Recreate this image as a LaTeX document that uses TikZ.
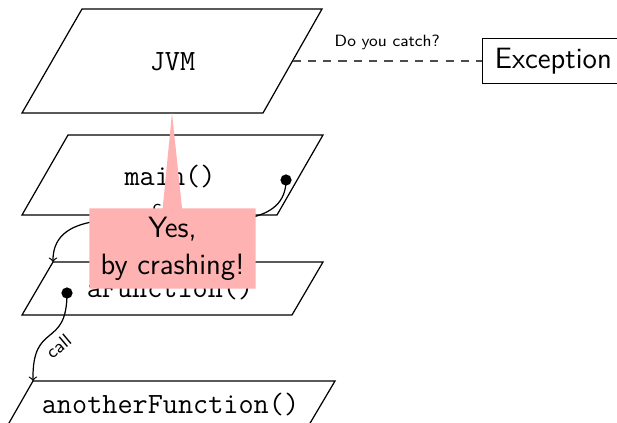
\documentclass[tikz,border=0pt]{standalone}
\usepackage{fontspec}
\usetikzlibrary{shapes.callouts}
\begin{document}
\begin{tikzpicture}[x=0.49pt,y=-0.49pt,
  plane/.style={draw, line width=0.6pt, fill=white},
  lbl/.style={font=\ttfamily\Large, inner sep=0pt},
  dotnode/.style={circle, fill=black, inner sep=0pt, minimum size=5.5pt},
  callarrow/.style={->, line width=0.6pt},
  smalltext/.style={font=\sffamily\footnotesize},
  calltext/.style={font=\sffamily\small},
  dashline/.style={line width=0.6pt, dash pattern=on 4pt off 3.5pt, draw=black!70}]
\clip (0,0) rectangle (617,422);
% planes
\draw[plane] (82,9) -- (322,9) -- (263,113) -- (22,113) -- cycle;
\draw[plane] (68,135) -- (323,135) -- (277,215) -- (22,215) -- cycle;
\draw[plane] (53,262) -- (323,262) -- (292,315) -- (22,315) -- cycle;
\draw[plane] (33,381) -- (335,381) -- (306,430) -- (5,430) -- cycle;
\node[lbl] (jvm) at (172.5,62) {JVM};
\node[lbl] (main) at (170,177) {main()};
\node[lbl] (afun) at (170,289) {aFunction()};
\node[lbl] (another) at (170.5,405) {anotherFunction()};
\coordinate (jvmE) at (292.5,61);
\coordinate (jvmS) at (172,113);
\coordinate (afunNW) at (53,262);
\coordinate (anotherNW) at (33,381);
% calls
\node[dotnode] (d1) at (286,180) {};
\node[dotnode] (d2) at (67,293) {};
\draw[callarrow] (d1.center) .. controls (286,270) and (52,170) .. (afunNW)
  node[pos=0.51, sloped, above, calltext] {call};
\draw[callarrow] (d2.center) .. controls (67,350) and (32,320) .. (anotherNW)
  node[pos=0.5, sloped, below, calltext] {call};
% exception
\node[draw, line width=0.6pt, anchor=west, font=\sffamily\Large, inner xsep=6pt, inner ysep=4.6pt] (exc) at (482,61) {Exception};
\draw[dashline] (jvmE) -- node[midway, above=2pt, smalltext] {Do you catch?} (exc.west);
% callout
\node[rectangle callout, fill=red!30, callout absolute pointer={(jvmS)},
  callout pointer width=9.5pt, align=center, font=\sffamily\Large, inner xsep=5.5pt, inner ysep=4.2pt] (yes)
  at (172.5,248.5) {Yes,\\by crashing!};
\end{tikzpicture}
\end{document}
